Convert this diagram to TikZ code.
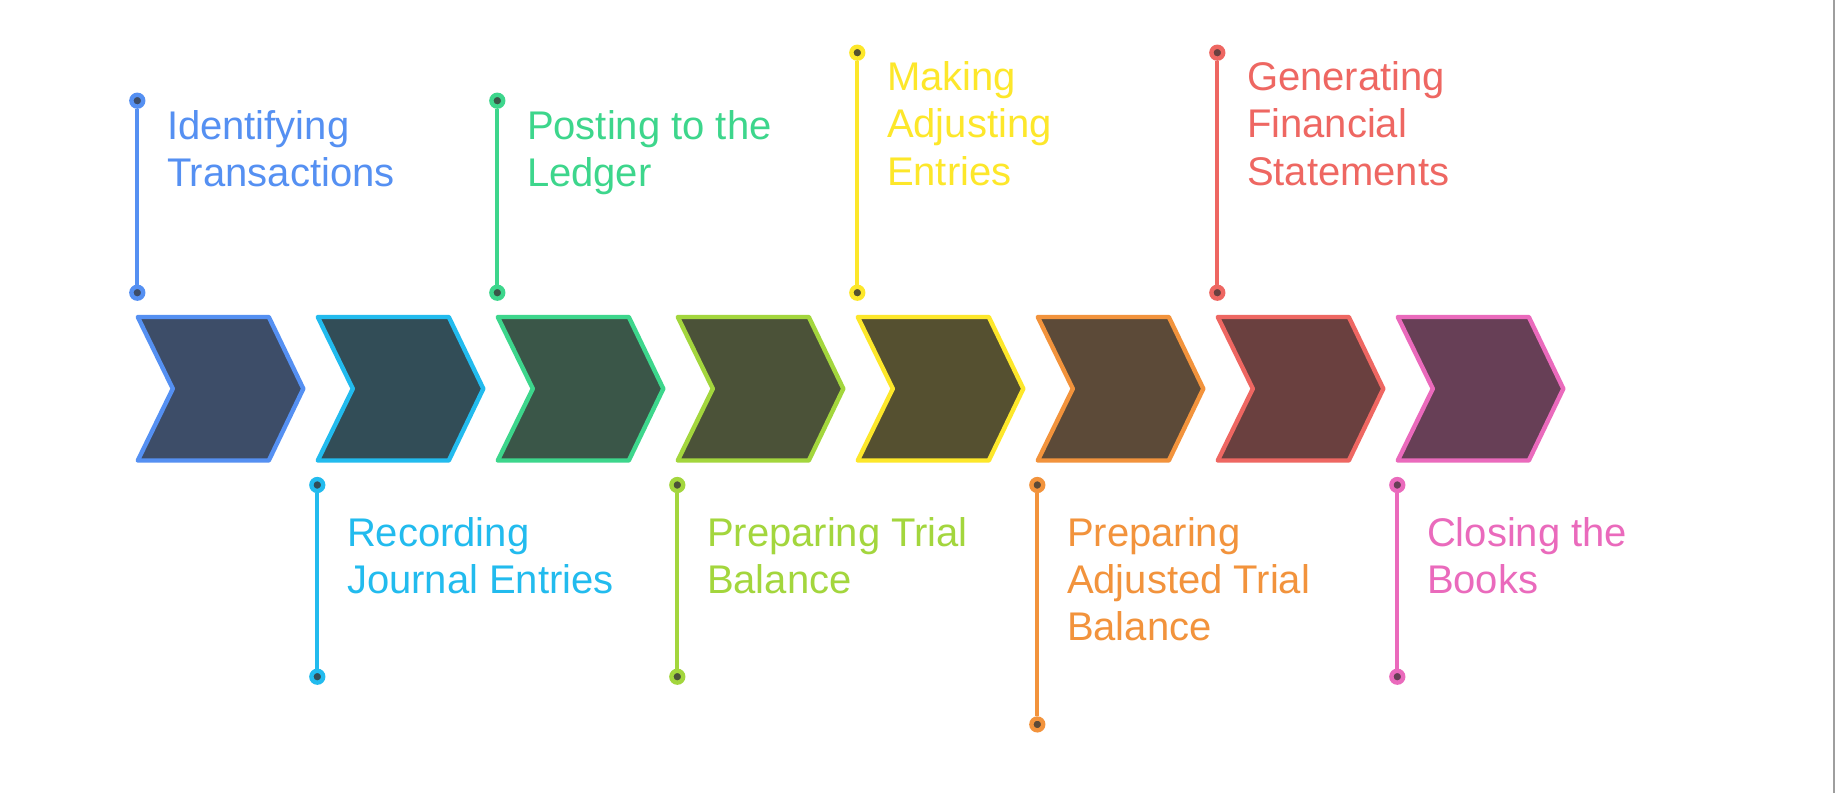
\documentclass[tikz,border=0pt]{standalone}
\usepackage{fontspec}
\setmainfont{Liberation Sans}
\definecolor{sA}{HTML}{5590F2}\definecolor{fA}{HTML}{3D4D68}
\definecolor{sB}{HTML}{22BBEE}\definecolor{fB}{HTML}{324D57}
\definecolor{sC}{HTML}{3DD68C}\definecolor{fC}{HTML}{3A5648}
\definecolor{sD}{HTML}{A3D63D}\definecolor{fD}{HTML}{4B5238}
\definecolor{sE}{HTML}{FDE72A}\definecolor{fE}{HTML}{555030}
\definecolor{sF}{HTML}{F2933C}\definecolor{fF}{HTML}{5C4A38}
\definecolor{sG}{HTML}{EE6762}\definecolor{fG}{HTML}{6A403F}
\definecolor{sH}{HTML}{EA6ABC}\definecolor{fH}{HTML}{673F56}
\definecolor{edgegray}{HTML}{9E9E9E}
\begin{document}
\begin{tikzpicture}[x=1pt,y=-1pt,
  lbl/.style={anchor=base west, align=left, inner sep=0pt,
    font=\fontsize{40}{47.4}\selectfont, text=#1},
  pin/.style={circle, draw=#1, line width=4.4pt, minimum size=11.8pt, inner sep=0pt},
  stem/.style={draw=#1, line width=3.8pt},
  chev/.style={line width=4.4pt, line join=round}]
\useasboundingbox (0,0) rectangle (1835,793);
\fill[white] (0,0) rectangle (1835,793);
\draw[edgegray, line width=1.6pt] (1834,0) -- (1834,793);

% chevrons
\foreach \i/\s/\f in {0/sA/fA,1/sB/fB,2/sC/fC,3/sD/fD,4/sE/fE,5/sF/fF,6/sG/fG,7/sH/fH}{
  \draw[chev, draw=\s, fill=\f] (137.8+180*\i,317) -- ++(131,0) -- ++(34.5,71.7)
    -- ++(-34.5,71.8) -- ++(-131,0) -- ++(35,-71.8) -- cycle;
}

% 1 Identifying Transactions (top)
\node[pin=sA, fill=fA] (p0a) at (137.3,100.7) {};
\node[pin=sA, fill=fA] (p0b) at (137.3,292.7) {};
\draw[stem=sA] (p0a) -- (p0b);
\node[lbl=sA] (t0) at (166.8,186.7) {Identifying\\Transactions};

% 2 Recording Journal Entries (bottom)
\node[pin=sB, fill=fB] (p1a) at (317.3,485) {};
\node[pin=sB, fill=fB] (p1b) at (317.3,676.7) {};
\draw[stem=sB] (p1a) -- (p1b);
\node[lbl=sB] (t1) at (346.8,593.4) {Recording\\Journal Entries};

% 3 Posting to the Ledger (top)
\node[pin=sC, fill=fC] (p2a) at (497.3,100.7) {};
\node[pin=sC, fill=fC] (p2b) at (497.3,292.7) {};
\draw[stem=sC] (p2a) -- (p2b);
\node[lbl=sC] (t2) at (526.8,186.7) {Posting to the\\Ledger};

% 4 Preparing Trial Balance (bottom)
\node[pin=sD, fill=fD] (p3a) at (677.3,485) {};
\node[pin=sD, fill=fD] (p3b) at (677.3,676.7) {};
\draw[stem=sD] (p3a) -- (p3b);
\node[lbl=sD] (t3) at (706.8,593.4) {Preparing Trial\\Balance};

% 5 Making Adjusting Entries (top)
\node[pin=sE, fill=fE] (p4a) at (857.3,52.7) {};
\node[pin=sE, fill=fE] (p4b) at (857.3,292.7) {};
\draw[stem=sE] (p4a) -- (p4b);
\node[lbl=sE] (t4) at (886.8,185) {Making\\Adjusting\\Entries};

% 6 Preparing Adjusted Trial Balance (bottom)
\node[pin=sF, fill=fF] (p5a) at (1037.3,485) {};
\node[pin=sF, fill=fF] (p5b) at (1037.3,724.4) {};
\draw[stem=sF] (p5a) -- (p5b);
\node[lbl=sF] (t5) at (1066.8,640.8) {Preparing\\Adjusted Trial\\Balance};

% 7 Generating Financial Statements (top)
\node[pin=sG, fill=fG] (p6a) at (1217.3,52.7) {};
\node[pin=sG, fill=fG] (p6b) at (1217.3,292.7) {};
\draw[stem=sG] (p6a) -- (p6b);
\node[lbl=sG] (t6) at (1246.8,185) {Generating\\Financial\\Statements};

% 8 Closing the Books (bottom)
\node[pin=sH, fill=fH] (p7a) at (1397.3,485) {};
\node[pin=sH, fill=fH] (p7b) at (1397.3,676.7) {};
\draw[stem=sH] (p7a) -- (p7b);
\node[lbl=sH] (t7) at (1426.8,593.4) {Closing the\\Books};
\end{tikzpicture}
\end{document}
